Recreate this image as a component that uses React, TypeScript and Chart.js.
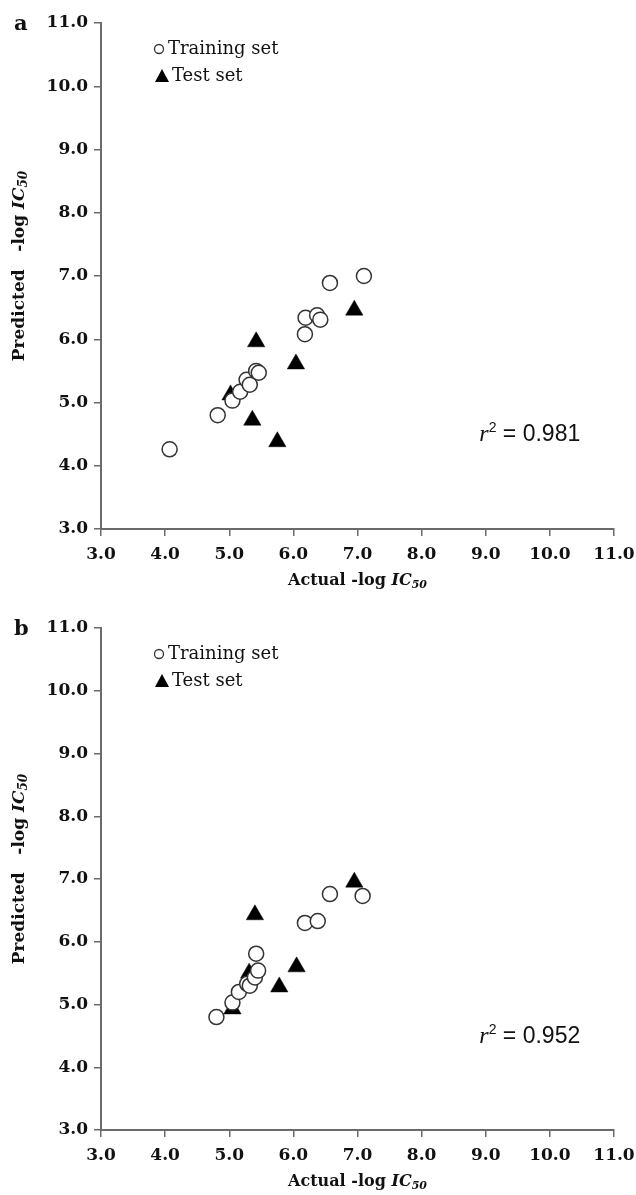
import React, { useEffect, useRef } from "react";
import { Chart, registerables } from "chart.js";

Chart.register(...registerables);

// ---------- data ----------
const axisTicks = [3, 4, 5, 6, 7, 8, 9, 10, 11];

const trainActualA = [4.07, 4.82, 5.05, 5.17, 5.27, 5.32, 5.42, 5.46, 6.18, 6.19, 6.37, 6.42, 6.57, 7.1];
const trainPredA = [4.26, 4.8, 5.03, 5.17, 5.36, 5.28, 5.5, 5.47, 6.08, 6.34, 6.38, 6.31, 6.89, 7.0];
const testActualA = [5.02, 5.36, 5.42, 5.75, 6.04, 6.95];
const testPredA = [5.12, 4.72, 5.96, 4.38, 5.61, 6.46];

const trainActualB = [4.8, 5.05, 5.15, 5.28, 5.32, 5.4, 5.45, 5.42, 6.18, 6.38, 6.57, 7.08];
const trainPredB = [4.8, 5.03, 5.2, 5.33, 5.3, 5.43, 5.54, 5.81, 6.3, 6.33, 6.76, 6.73];
const testActualB = [5.05, 5.31, 5.4, 5.78, 6.05, 6.95];
const testPredB = [4.93, 5.5, 6.43, 5.28, 5.6, 6.95];

const r2A = "0.981";
const r2B = "0.952";

// ---------- styles ----------
const SERIF = '"DejaVu Serif", "Liberation Serif", serif';
const AXIS_GRAY = "#6a6a6a";

type Part = { t: string; f: string; dy?: number };

function drawParts(ctx: CanvasRenderingContext2D, parts: Part[], x: number, y: number, center: boolean) {
  let total = 0;
  const widths = parts.map((p) => {
    ctx.font = p.f;
    const w = ctx.measureText(p.t).width;
    total += w;
    return w;
  });
  let cx = center ? x - total / 2 : x;
  parts.forEach((p, i) => {
    ctx.font = p.f;
    ctx.fillText(p.t, cx, y + (p.dy || 0));
    cx += widths[i];
  });
}

const overlay = {
  id: "overlay",
  afterDraw(chart: any, _args: any, opts: any) {
    const { ctx, chartArea, scales } = chart;
    const top = chartArea.top;
    const bottom = chartArea.bottom;
    ctx.save();
    ctx.fillStyle = "#111";
    ctx.textAlign = "left";
    ctx.textBaseline = "alphabetic";

    // panel letter
    ctx.font = `bold 21px ${SERIF}`;
    ctx.fillText(opts.letter, 14, top + 7);

    // legend
    const ly1 = top + 26;
    const ly2 = top + 53;
    ctx.beginPath();
    ctx.arc(159, ly1, 4.5, 0, Math.PI * 2);
    ctx.fillStyle = "#fff";
    ctx.fill();
    ctx.strokeStyle = "#333";
    ctx.lineWidth = 1.3;
    ctx.stroke();
    ctx.fillStyle = "#000";
    ctx.beginPath();
    ctx.moveTo(162, ly2 - 7);
    ctx.lineTo(169, ly2 + 6);
    ctx.lineTo(155, ly2 + 6);
    ctx.closePath();
    ctx.fill();
    ctx.fillStyle = "#111";
    ctx.textBaseline = "middle";
    ctx.font = `18px ${SERIF}`;
    ctx.fillText("Training set", 168, ly1);
    ctx.fillText("Test set", 172, ly2);

    // r^2 annotation
    ctx.textBaseline = "alphabetic";
    const rx = scales.x.getPixelForValue(8.9);
    const ry = scales.y.getPixelForValue(4.52) + 8;
    drawParts(
      ctx,
      [
        { t: "r", f: 'italic 24px "Liberation Serif", serif' },
        { t: "2", f: '14px "Liberation Sans Narrow", "Liberation Sans", sans-serif', dy: -9 },
        { t: " = " + opts.r2, f: '23px "Liberation Sans Narrow", "Liberation Sans", sans-serif' },
      ],
      rx,
      ry,
      false
    );

    // axis titles
    ctx.textBaseline = "middle";
    drawParts(
      ctx,
      [
        { t: "Actual -log ", f: `bold 16px ${SERIF}` },
        { t: "IC", f: `italic bold 16px ${SERIF}` },
        { t: "50", f: `italic bold 11px ${SERIF}`, dy: 4 },
      ],
      (chartArea.left + chartArea.right) / 2,
      bottom + 52,
      true
    );

    ctx.translate(20, (top + bottom) / 2 - 10);
    ctx.rotate(-Math.PI / 2);
    drawParts(
      ctx,
      [
        { t: "Predicted   -log ", f: `bold 17px ${SERIF}` },
        { t: "IC", f: `italic bold 17px ${SERIF}` },
        { t: "50", f: `italic bold 12px ${SERIF}`, dy: 4 },
      ],
      0,
      0,
      true
    );
    ctx.restore();
  },
};

function axisOptions(isX: boolean, fitSize: number) {
  return {
    type: "linear",
    min: 3,
    max: 11,
    position: isX ? "bottom" : "left",
    afterBuildTicks(scale: any) {
      scale.ticks = axisTicks.map((v) => ({ value: v }));
    },
    afterFit(scale: any) {
      if (isX) {
        scale.height = fitSize;
        scale.paddingLeft = 0;
        scale.paddingRight = 0;
      } else {
        scale.width = fitSize;
        scale.paddingTop = 0;
        scale.paddingBottom = 0;
      }
    },
    grid: {
      display: true,
      drawOnChartArea: false,
      drawTicks: true,
      tickLength: 7,
      color: AXIS_GRAY,
      lineWidth: 1.5,
    },
    border: { display: true, color: AXIS_GRAY, width: 2 },
    ticks: {
      autoSkip: false,
      maxRotation: 0,
      padding: isX ? 8 : 6,
      color: "#111",
      font: { family: SERIF, size: 17, weight: "bold" },
      callback: (v: any) => Number(v).toFixed(1),
    },
  };
}

type PanelProps = {
  letter: string;
  trainX: number[];
  trainY: number[];
  testX: number[];
  testY: number[];
  r2: string;
  height: number;
  top: number;
  bottom: number;
};

function Panel(p: PanelProps) {
  const ref = useRef<HTMLCanvasElement | null>(null);
  useEffect(() => {
    if (!ref.current) return;
    const chart = new Chart(ref.current, {
      type: "scatter",
      data: {
        datasets: [
          {
            label: "Training set",
            data: p.trainX.map((x, i) => ({ x, y: p.trainY[i] })),
            pointStyle: "circle",
            pointRadius: 7.5,
            pointBackgroundColor: "#ffffff",
            pointBorderColor: "#333333",
            pointBorderWidth: 1.5,
          },
          {
            label: "Test set",
            data: p.testX.map((x, i) => ({ x, y: p.testY[i] })),
            pointStyle: "triangle",
            pointRadius: 10,
            pointBackgroundColor: "#000000",
            pointBorderColor: "#000000",
            pointBorderWidth: 0.5,
          },
        ],
      },
      options: {
        animation: false,
        responsive: false,
        devicePixelRatio: 1,
        clip: false,
        layout: { padding: { left: 0, right: 22, top: p.top, bottom: 0 } },
        scales: {
          x: axisOptions(true, p.height - p.bottom),
          y: axisOptions(false, 101),
        } as any,
        plugins: {
          legend: { display: false },
          tooltip: { enabled: false },
          overlay: { letter: p.letter, r2: p.r2 },
        } as any,
      },
      plugins: [overlay as any],
    });
    return () => chart.destroy();
  }, []);
  return <canvas ref={ref} width={636} height={p.height} style={{ display: "block" }} />;
}

export default function App() {
  return (
    <div style={{ position: "absolute", left: 0, top: 0, width: 636, height: 1195, background: "#fff" }}>
      <Panel
        letter="a"
        trainX={trainActualA}
        trainY={trainPredA}
        testX={testActualA}
        testY={testPredA}
        r2={r2A}
        height={600}
        top={23}
        bottom={529}
      />
      <Panel
        letter="b"
        trainX={trainActualB}
        trainY={trainPredB}
        testX={testActualB}
        testY={testPredB}
        r2={r2B}
        height={595}
        top={28}
        bottom={530}
      />
    </div>
  );
}
